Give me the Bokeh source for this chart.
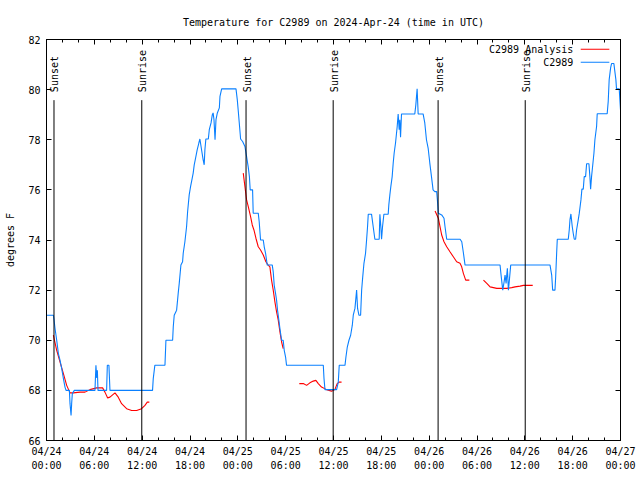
import numpy as np
from bokeh.plotting import figure
from bokeh.models import Range1d, FixedTicker, LinearAxis, Label, BoxAnnotation, ColumnDataSource
from bokeh.embed import file_html
from bokeh.resources import INLINE
from bokeh.core.properties import value

FONT = "DejaVu Sans Mono"
NAN = float("nan")

# ---- data (hours since 2024-04-24 00:00 UTC) ----
tick_hours = [0, 6, 12, 18, 24, 30, 36, 42, 48, 54, 60, 66, 72]
tick_labels = ["04/24\n00:00", "04/24\n06:00", "04/24\n12:00", "04/24\n18:00",
               "04/25\n00:00", "04/25\n06:00", "04/25\n12:00", "04/25\n18:00",
               "04/26\n00:00", "04/26\n06:00", "04/26\n12:00", "04/26\n18:00",
               "04/27\n00:00"]
minor_hours = [h for h in range(0, 73, 2)]
y_ticks = [66, 68, 70, 72, 74, 76, 78, 80, 82]

obs_hours = [0.0, 0.86, 0.95, 1.07, 1.28, 1.49, 1.7, 1.91, 2.12, 2.32, 2.45, 2.87, 2.95, 3.08, 3.16, 3.24, 3.49,
             6.08, 6.2, 6.3, 6.38, 6.46, 7.54, 7.63, 7.83, 7.96, 13.3, 13.39, 13.59,
             14.86, 14.98, 15.82, 15.9, 16.02, 16.32, 16.52, 16.65, 16.86, 17.07, 17.15, 17.36, 17.57, 17.7,
             17.9, 18.07, 18.28, 18.4, 18.53, 18.7, 18.9, 19.11, 19.24, 19.45, 19.65, 19.78, 19.87, 19.99,
             20.3, 20.42, 20.64, 20.8, 20.9, 21.01, 21.14, 21.26, 21.43, 21.68, 21.76, 21.97, 23.77, 23.93,
             24.06, 24.18, 24.35, 24.6, 24.89, 25.1, 25.31, 25.45, 25.55, 25.85, 25.93, 26.56, 26.68, 26.85,
             27.19, 27.31, 27.48, 27.69, 28.32, 28.44, 28.56, 28.73, 28.86, 28.98, 29.15, 29.28, 29.49, 29.69,
             29.82, 29.99, 30.11, 34.72, 34.81, 34.93, 36.39, 36.6, 36.72, 37.44, 37.56, 37.73, 37.94, 38.15,
             38.36, 38.48, 38.69, 38.9, 39.02, 39.19, 39.4, 39.53, 39.65, 39.82, 40.02, 40.15, 40.27, 40.36,
             40.77, 40.98, 41.19, 41.73, 41.82, 41.94, 42.03, 42.15, 42.32, 42.86, 42.94, 43.07, 43.19, 43.36,
             43.49, 43.61, 43.78, 43.99, 44.11, 44.24, 44.32, 44.41, 44.53, 46.2, 46.33, 46.49, 46.62, 47.24,
             47.45, 47.66, 47.87, 48.08, 48.29, 48.49, 48.71, 48.94, 49.03, 49.15, 49.57, 49.86, 49.99, 50.2,
             51.88, 52.09, 52.3, 52.5, 56.89, 57.02, 57.23, 57.4, 57.52, 57.65, 57.73, 57.81, 57.94, 58.06,
             58.23, 63.16, 63.37, 63.49, 63.78, 63.87, 63.99, 64.07, 65.45, 65.57, 65.66, 65.78, 65.95, 66.07,
             66.2, 66.37, 66.49, 66.7, 66.83, 67.04, 67.16, 67.33, 67.45, 67.62, 67.75, 68.04, 68.16, 68.25,
             68.37, 68.5, 68.67, 68.79, 69.0, 69.08, 70.33, 70.46, 70.58, 70.76, 70.88, 71.17, 71.29, 71.42,
             71.5, 71.84, 71.92, 72.0]
obs_temp = [71.0, 71.0, 70.8, 70.47, 70.0, 69.47, 69.2, 68.87, 68.47, 68.13, 68.0, 68.0, 67.47, 67.0, 67.5, 67.87, 68.0,
            68.0, 69.0, 68.5, 68.8, 68.0, 68.0, 69.0, 69.0, 68.0, 68.0, 68.47, 69.0,
            69.0, 70.0, 70.0, 70.53, 71.0, 71.2, 71.87, 72.27, 73.0, 73.13, 73.47, 73.93, 74.53, 75.13,
            75.8, 76.13, 76.47, 76.67, 77.0, 77.27, 77.6, 77.87, 78.03, 77.6, 77.2, 77.0, 77.6, 78.03,
            78.03, 78.4, 78.67, 79.0, 79.07, 78.8, 78.0, 78.8, 79.07, 79.27, 79.73, 80.03, 80.03, 79.6,
            79.13, 78.67, 78.03, 77.93, 77.73, 77.33, 76.9, 76.53, 76.0, 76.0, 75.07, 75.07, 74.73, 74.0,
            74.0, 73.73, 73.47, 73.0, 73.0, 72.73, 72.2, 71.87, 71.6, 71.2, 70.8, 70.47, 70.0, 70.0,
            69.6, 69.33, 69.0, 69.0, 68.47, 68.03, 68.03, 68.33, 69.0, 69.0, 69.33, 69.73, 70.0, 70.2,
            70.6, 71.0, 71.27, 72.0, 71.27, 71.0, 71.0, 72.0, 72.47, 73.07, 73.47, 74.0, 74.53, 75.03,
            75.03, 74.53, 74.03, 74.03, 75.03, 74.53, 74.03, 74.53, 75.03, 75.03, 75.4, 75.8, 76.13, 76.53,
            77.07, 77.47, 77.87, 78.53, 79.03, 78.4, 78.8, 78.1, 79.03, 79.03, 79.4, 80.03, 79.03, 79.03,
            78.67, 78.0, 77.67, 77.07, 76.53, 76.0, 75.93, 75.93, 75.6, 75.07, 75.0, 74.87, 74.53, 74.03,
            74.03, 73.93, 73.47, 73.0, 73.0, 72.6, 72.0, 72.33, 72.6, 72.27, 72.6, 72.87, 72.0, 72.4,
            73.0, 73.0, 72.6, 72.0, 72.0, 72.53, 73.47, 74.03, 74.03, 74.4, 74.8, 75.04, 74.53, 74.27,
            74.03, 74.03, 74.4, 74.8, 75.07, 75.6, 76.03, 76.03, 76.53, 76.53, 77.04, 77.04, 76.53, 76.03,
            76.53, 76.93, 77.47, 78.0, 78.53, 79.04, 79.04, 79.53, 80.4, 80.87, 81.04, 81.04, 80.73, 80.4,
            80.03, 80.03, 79.6, 79.2]

ana_hours = [0.86, 1.28, 1.7, 2.12, 2.53, 2.95, 3.37, 4.2, 4.83, 5.45, 6.29, 7.04, 7.33, 7.67, 7.96, 8.59,
             9.0, 9.42, 10.05, 10.68, 11.31, 11.93, 12.35, 12.64, 12.9, NAN,
             24.68, 24.89, 25.1, 25.31, 25.6, 25.81, 26.02, 26.27, 26.56, 26.85, 27.19, 27.52, 27.81, 28.02,
             28.23, 28.44, 28.65, 28.86, 29.07, 29.28, 29.49, 29.69, NAN,
             31.71, 32.21, 32.63, 33.04, 33.46, 33.79, 34.09, 34.5, 35.13, 35.76, 36.17, 36.46, 36.71, 37.01, NAN,
             48.74, 49.15, 49.36, 49.57, 49.86, 50.2, 50.61, 51.03, 51.45, 51.87, 52.08, 52.29, 52.58, 53.04, NAN,
             54.81, 55.23, 55.64, 56.06, 56.48, 57.11, 57.73, 58.36, 58.77, 59.4, 59.82, 60.24, 60.99]
ana_temp = [70.2, 69.6, 69.13, 68.67, 68.2, 67.9, 67.9, 67.93, 67.93, 68.03, 68.1, 68.1, 67.93, 67.7, 67.73, 67.9,
            67.73, 67.47, 67.27, 67.2, 67.2, 67.27, 67.4, 67.53, 67.53, NAN,
            76.67, 76.13, 75.6, 75.33, 74.93, 74.6, 74.4, 74.07, 73.73, 73.6, 73.4, 73.13, 73.0, 72.93,
            72.4, 72.0, 71.53, 71.13, 70.8, 70.33, 69.93, 69.67, NAN,
            68.27, 68.27, 68.2, 68.3, 68.37, 68.4, 68.27, 68.13, 68.03, 67.97, 68.03, 68.27, 68.33, 68.33, NAN,
            75.16, 74.87, 74.53, 74.2, 73.93, 73.73, 73.53, 73.33, 73.13, 73.07, 72.93, 72.67, 72.4, 72.4, NAN,
            72.4, 72.27, 72.13, 72.1, 72.07, 72.07, 72.07, 72.1, 72.13, 72.16, 72.19, 72.19, 72.19]

event_hours = [0.94, 11.95, 25.03, 35.96, 49.12, 60.05]
event_names = ["Sunset", "Sunrise", "Sunset", "Sunrise", "Sunset", "Sunrise"]

series_names = ["C2989 Analysis", "C2989"]
series_colors = ["#ff0000", "#0a80ff"]

# ---- figure ----
p = figure(width=640, height=480, x_range=Range1d(0, 72), y_range=Range1d(66, 82),
           output_backend="svg", toolbar_location=None,
           min_border_left=46, min_border_right=20, min_border_top=39, min_border_bottom=40,
           title="Temperature for C2989 on 2024-Apr-24 (time in UTC)")
p.grid.visible = False
p.outline_line_color = "black"
p.background_fill_color = "white"
p.border_fill_color = "white"

p.title.align = "center"
p.title.vertical_align = "top"
p.title.text_font = FONT
p.title.text_font_size = "10px"
p.title.text_font_style = "normal"
p.title.text_color = "black"
p.title.standoff = 20

xt = FixedTicker(ticks=tick_hours, minor_ticks=minor_hours)
yt = FixedTicker(ticks=y_ticks, minor_ticks=[])

bottom_ax = p.below[0]
left_ax = p.left[0]

bottom_ax.ticker = xt
bottom_ax.major_label_overrides = {h: lab for h, lab in zip(tick_hours, tick_labels)}
bottom_ax.major_label_standoff = 5
bottom_ax.major_label_text_line_height = 1.3

left_ax.ticker = yt
left_ax.major_label_standoff = 6
left_ax.axis_label = "degrees F"
left_ax.axis_label_standoff = 9
left_ax.axis_label_text_font = FONT
left_ax.axis_label_text_font_size = "10px"
left_ax.axis_label_text_font_style = "normal"
left_ax.axis_label_text_color = "black"

top_ax = LinearAxis(ticker=xt, major_label_overrides={h: "" for h in tick_hours},
                    major_label_standoff=0)
right_ax = LinearAxis(ticker=yt, major_label_overrides={v: "" for v in y_ticks},
                      major_label_standoff=0)
p.add_layout(top_ax, "above")
p.add_layout(right_ax, "right")

for ax in [bottom_ax, left_ax, top_ax, right_ax]:
    ax.major_tick_in = 5
    ax.major_tick_out = 0
    ax.minor_tick_in = 3
    ax.minor_tick_out = 0
    ax.axis_line_color = "black"
    ax.major_tick_line_color = "black"
    ax.minor_tick_line_color = "black"
    ax.major_label_text_font = FONT
    ax.major_label_text_font_size = "10px"
    ax.major_label_text_color = "black"

# ---- data lines ----
p.line(ana_hours, ana_temp, line_color=series_colors[0], line_width=1.1)
p.line(obs_hours, obs_temp, line_color=series_colors[1], line_width=1.1)

# ---- sunrise / sunset markers ----
ev = ColumnDataSource(dict(x=event_hours, name=event_names,
                           y0=[66] * len(event_hours), y1=[79.58] * len(event_hours),
                           ty=[79.9] * len(event_hours)))
p.segment(x0="x", y0="y0", x1="x", y1="y1", source=ev, line_color="black", line_width=1)
p.text(x="x", y="ty", text="name", source=ev, angle=np.pi / 2, text_align="left",
       text_baseline="middle", text_font=value(FONT), text_font_size="10px",
       text_color="black", x_offset=1)

# ---- legend (gnuplot style: text then sample) ----
leg_y = [81.61, 81.09]
for name, col, yy in zip(series_names, series_colors, leg_y):
    p.add_layout(Label(x=66.08, y=yy, text=name, text_align="right", text_baseline="middle",
                       text_font=FONT, text_font_size="10px", text_color="black"))
    p.add_layout(BoxAnnotation(left=67.01, right=70.6, bottom=yy - 0.02, top=yy + 0.02,
                               fill_color=col, fill_alpha=1.0, line_color=None))

open("out.html", "w").write(file_html(p, INLINE))
